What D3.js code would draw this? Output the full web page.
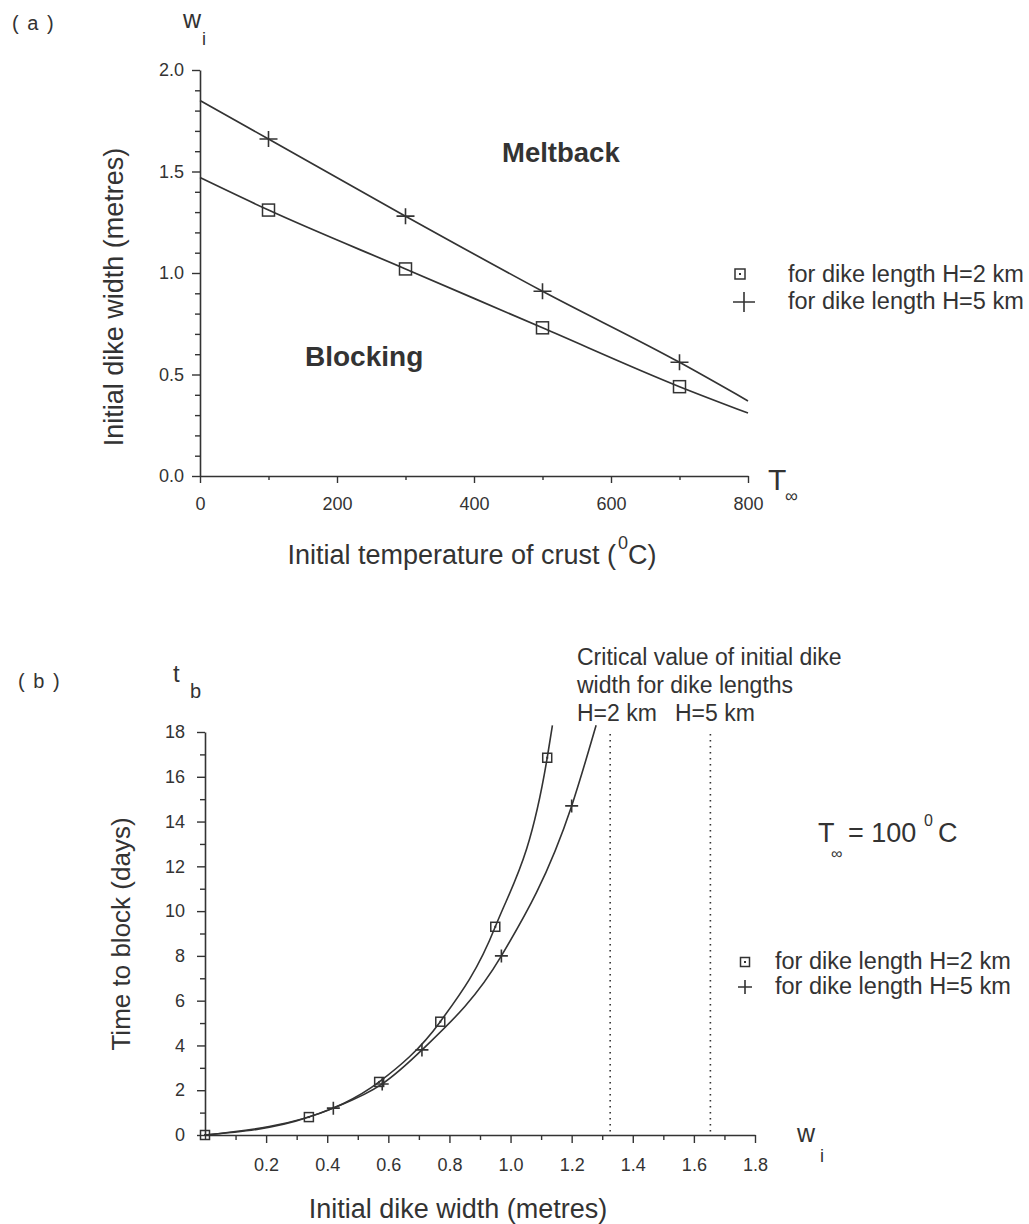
<!DOCTYPE html>
<html><head><meta charset="utf-8">
<script src="https://cdn.jsdelivr.net/npm/d3@7"></script>
<style>
body{margin:0;background:#fff}
svg{display:block}
text{font-family:"Liberation Sans",Arial,Helvetica,sans-serif;fill:#333}
</style>
</head><body>
<svg id="c" width="1029" height="1224"></svg>
<script>
// ---------- Panel (a) data ----------
const tempTicks = [0, 200, 400, 600, 800];
const tempMinor = [100, 300, 500, 700];
const widthTicksA = [0.0, 0.5, 1.0, 1.5, 2.0];
const widthMinorA = [0.1,0.2,0.3,0.4,0.6,0.7,0.8,0.9,1.1,1.2,1.3,1.4,1.6,1.7,1.8,1.9];
const tempH2 = [100, 300, 500, 700];
const wH2    = [1.31, 1.02, 0.73, 0.44];
const tempH5 = [100, 300, 500, 700];
const wH5    = [1.66, 1.28, 0.91, 0.56];
// boundary curves
const fitTempA = [0, 100, 300, 500, 700, 800];
const fitWH2   = [1.47, 1.31, 1.02, 0.73, 0.44, 0.31];
const fitWH5   = [1.85, 1.66, 1.28, 0.91, 0.56, 0.37];

// ---------- Panel (b) data ----------
const widthTicksB = [0.2, 0.4, 0.6, 0.8, 1.0, 1.2, 1.4, 1.6, 1.8];
const widthMinorB = [0.0, 0.1, 0.3, 0.5, 0.7, 0.9, 1.1, 1.3, 1.5, 1.7];
const dayTicks = [0, 2, 4, 6, 8, 10, 12, 14, 16, 18];
const dayMinor = [1, 3, 5, 7, 9, 11, 13, 15, 17];
const wiH2 = [0, 0.34, 0.57, 0.77, 0.95, 1.12];
const tbH2 = [0, 0.8, 2.37, 5.06, 9.3, 16.85];
const wiH5 = [0.42, 0.58, 0.71, 0.97, 1.20];
const tbH5 = [1.2, 2.28, 3.8, 8.0, 14.7];
const fitWiH2 = [0, 0.34, 0.57, 0.77, 0.95, 1.12, 1.137];
const fitTbH2 = [0, 0.8, 2.37, 5.06, 9.3, 16.85, 18.3];
const fitWiH5 = [0, 0.42, 0.58, 0.71, 0.97, 1.20, 1.28];
const fitTbH5 = [0, 1.2, 2.28, 3.8, 8.0, 14.7, 18.3];
const criticalWidth = [1.326, 1.654];
const legendLabels = ["for dike length H=2 km", "for dike length H=5 km"];

const INK = "#333";
const svg = d3.select("#c");
const zip = (a, b) => a.map((v, i) => [v, b[i]]);

function styleAxis(g, fs) {
  g.attr("font-family", null).attr("font-size", null);
  g.select(".domain").attr("stroke", INK).attr("stroke-width", 1.6);
  g.selectAll(".tick line").attr("stroke", INK).attr("stroke-width", 1.4);
  g.selectAll(".tick text").attr("font-size", fs).style("fill", INK);
}
function square(g, cx, cy, s, dot) {
  g.append("rect").attr("x", cx - s/2).attr("y", cy - s/2).attr("width", s).attr("height", s)
    .attr("fill", "none").attr("stroke", INK).attr("stroke-width", 1.5);
  if (dot) g.append("rect").attr("x", cx - 1).attr("y", cy - 1).attr("width", 2).attr("height", 2).attr("fill", INK);
}
function plus(g, cx, cy, w, h) {
  g.append("path").attr("d", `M${cx-w/2},${cy}H${cx+w/2}M${cx},${cy-h/2}V${cy+h/2}`)
    .attr("stroke", INK).attr("stroke-width", 1.6).attr("fill", "none");
}
function txt(x, y, s, fs, opts = {}) {
  const t = svg.append("text").attr("x", x).attr("y", y).attr("font-size", fs).text(s);
  if (opts.anchor) t.attr("text-anchor", opts.anchor);
  if (opts.weight) t.attr("font-weight", opts.weight);
  if (opts.ls) t.attr("letter-spacing", opts.ls);
  return t;
}

// ================= Panel (a) =================
const xA = d3.scaleLinear().domain([0, 800]).range([200, 748]);
const yA = d3.scaleLinear().domain([0, 2]).range([476, 70]);

const gxA = svg.append("g").attr("transform", `translate(0,${yA(0)})`);
gxA.call(d3.axisBottom(xA).tickValues(tempTicks).tickSize(7).tickSizeOuter(0).tickPadding(14));
styleAxis(gxA, 18);
const gxAm = svg.append("g").attr("transform", `translate(0,${yA(0)})`);
gxAm.call(d3.axisBottom(xA).tickValues(tempMinor).tickSize(4).tickFormat(""));
styleAxis(gxAm, 18); gxAm.select(".domain").remove();

const gyA = svg.append("g").attr("transform", `translate(${xA(0)},0)`);
gyA.call(d3.axisLeft(yA).tickValues(widthTicksA).tickSize(8).tickSizeOuter(0).tickPadding(8).tickFormat(d3.format(".1f")));
styleAxis(gyA, 18);
const gyAm = svg.append("g").attr("transform", `translate(${xA(0)},0)`);
gyAm.call(d3.axisLeft(yA).tickValues(widthMinorA).tickSize(5).tickFormat(""));
styleAxis(gyAm, 18); gyAm.select(".domain").remove();

const lineA = d3.line().x(d => xA(d[0])).y(d => yA(d[1])).curve(d3.curveMonotoneX);
[fitWH2, fitWH5].forEach(v => {
  svg.append("path").attr("d", lineA(zip(fitTempA, v))).attr("fill", "none")
    .attr("stroke", INK).attr("stroke-width", 1.7);
});
const mA = svg.append("g");
zip(tempH2, wH2).forEach(d => square(mA, xA(d[0]), yA(d[1]), 12, false));
zip(tempH5, wH5).forEach(d => plus(mA, xA(d[0]), yA(d[1]), 18, 16));

txt(502, 162, "Meltback", 27.5, {weight: "bold"});
txt(305, 366, "Blocking", 28, {weight: "bold"});

// legend (a)
const lgA = svg.append("g");
square(lgA, 740, 274, 10, true);
plus(lgA, 744, 302, 22, 20);
txt(788, 282, legendLabels[0], 23.5);
txt(788, 309, legendLabels[1], 23.5);

// axis titles (a)
const tA = txt(472, 564, "Initial temperature of crust (", 27, {anchor: "middle"});
tA.append("tspan").attr("font-size", 18).attr("dy", -15).attr("dx", 2).text("0");
tA.append("tspan").attr("dy", 15).text("C)");
svg.append("text").attr("transform", "translate(123,297) rotate(-90)")
  .attr("text-anchor", "middle").attr("font-size", 27).text("Initial dike width (metres)");
txt(768, 490, "T", 30);
txt(785, 502, "\u221E", 18);
txt(183, 28, "w", 25);
txt(202, 45, "i", 18);
txt(12, 30, "( a )", 20, {ls: 1.5});

// ================= Panel (b) =================
const xB = d3.scaleLinear().domain([0, 1.8]).range([205, 755]);
const yB = d3.scaleLinear().domain([0, 18]).range([1135, 732]);

const gxB = svg.append("g").attr("transform", `translate(0,${yB(0)})`);
gxB.call(d3.axisBottom(xB).tickValues(widthTicksB).tickSize(8).tickSizeOuter(0).tickPadding(15).tickFormat(d3.format(".1f")));
styleAxis(gxB, 18);
const gxBm = svg.append("g").attr("transform", `translate(0,${yB(0)})`);
gxBm.call(d3.axisBottom(xB).tickValues(widthMinorB).tickSize(5).tickFormat(""));
styleAxis(gxBm, 18); gxBm.select(".domain").remove();

const gyB = svg.append("g").attr("transform", `translate(${xB(0)},0)`);
gyB.call(d3.axisLeft(yB).tickValues(dayTicks).tickSize(8).tickSizeOuter(0).tickPadding(12));
styleAxis(gyB, 18);
const gyBm = svg.append("g").attr("transform", `translate(${xB(0)},0)`);
gyBm.call(d3.axisLeft(yB).tickValues(dayMinor).tickSize(5).tickFormat(""));
styleAxis(gyBm, 18); gyBm.select(".domain").remove();

// critical widths
criticalWidth.forEach(w => {
  svg.append("line").attr("x1", xB(w)).attr("x2", xB(w)).attr("y1", 734).attr("y2", yB(0) - 3)
    .attr("stroke", INK).attr("stroke-width", 1.6).attr("stroke-dasharray", "1.6,4.4");
});

const lineB = d3.line().x(d => xB(d[0])).y(d => yB(d[1])).curve(d3.curveMonotoneX);
svg.append("path").attr("d", lineB(zip(fitWiH2, fitTbH2))).attr("fill", "none").attr("stroke", INK).attr("stroke-width", 1.6);
svg.append("path").attr("d", lineB(zip(fitWiH5, fitTbH5))).attr("fill", "none").attr("stroke", INK).attr("stroke-width", 1.6);
const mB = svg.append("g");
zip(wiH2, tbH2).forEach(d => square(mB, xB(d[0]), yB(d[1]), 9, true));
zip(wiH5, tbH5).forEach(d => plus(mB, xB(d[0]), yB(d[1]), 13, 13));

// legend (b)
const lgB = svg.append("g");
square(lgB, 745, 962, 9, true);
plus(lgB, 745, 987, 14, 14);
txt(775, 969, legendLabels[0], 23.5);
txt(775, 994, legendLabels[1], 23.5);

// annotations (b)
txt(577, 665, "Critical value of initial dike", 23);
txt(577, 693, "width for dike lengths", 23);
txt(577, 721, "H=2 km", 23);
txt(675, 721, "H=5 km", 23);

txt(818, 842, "T", 27);
txt(831, 859, "\u221E", 16);
txt(848, 842, "= 100", 27);
txt(924, 826, "0", 16);
txt(938, 842, "C", 27);

txt(458, 1218, "Initial dike width (metres)", 27, {anchor: "middle"});
svg.append("text").attr("transform", "translate(130,934) rotate(-90)")
  .attr("text-anchor", "middle").attr("font-size", 26).text("Time to block (days)");
txt(173, 682, "t", 24);
txt(190, 698, "b", 20);
txt(797, 1142, "w", 25);
txt(820, 1162, "i", 18);
txt(18, 688, "( b )", 20, {ls: 1.5});
</script>
</body></html>
